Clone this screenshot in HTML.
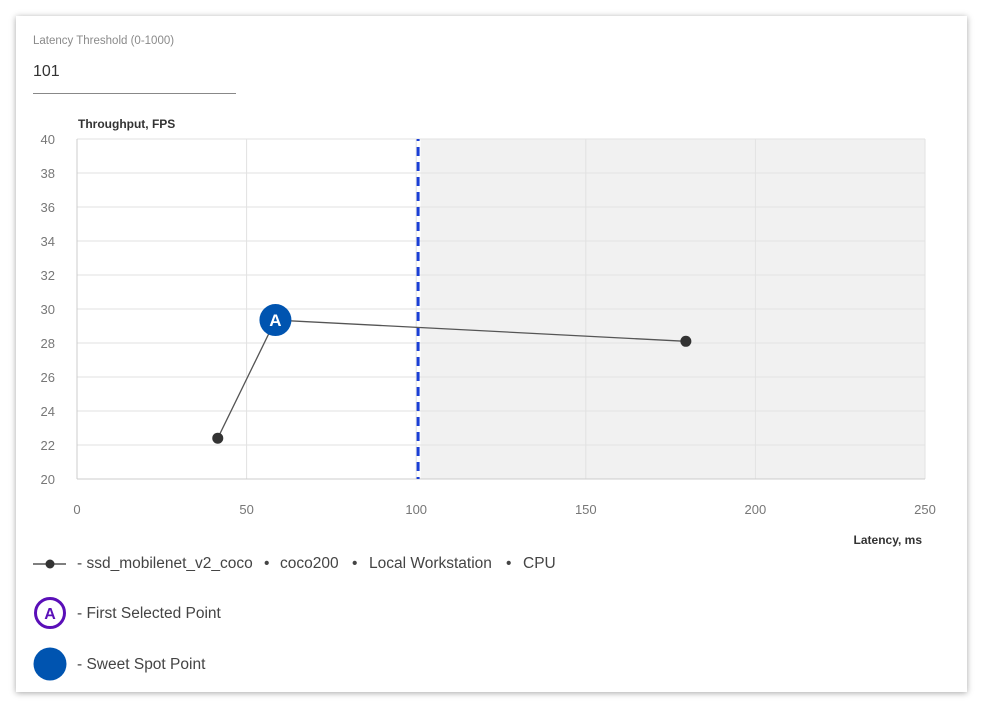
<!DOCTYPE html>
<html><head><meta charset="utf-8"><style>
body{margin:0;width:991px;height:716px;background:#fff;font-family:"Liberation Sans",sans-serif;overflow:hidden;position:relative}
#card{position:absolute;left:16px;top:16px;width:951px;height:676px;background:#fff;box-shadow:0 1px 6px rgba(0,0,0,0.35)}
.lbl{position:absolute;color:#8a8a8a;font-size:11.5px}
.leg{position:absolute;font-size:15.5px;color:#444;white-space:nowrap}
</style></head><body>
<div id="card"></div>
<div class="lbl" style="left:33px;top:35px">Latency Threshold (0-1000)</div>
<div style="position:absolute;left:33px;top:63px;width:203px;height:30px;border-bottom:1px solid #888;font-size:16px;color:#333">101</div>
<svg id="chart" width="991" height="716" style="position:absolute;left:0;top:0"></svg>
<div class="leg" style="left:77px;top:555px;width:178px">- ssd_mobilenet_v2_coco</div>
<div class="leg" style="left:264px;top:555px">•</div>
<div class="leg" style="left:280px;top:555px">coco200</div>
<div class="leg" style="left:352px;top:555px">•</div>
<div class="leg" style="left:369px;top:555px">Local Workstation</div>
<div class="leg" style="left:506px;top:555px">•</div>
<div class="leg" style="left:523px;top:555px">CPU</div>
<div class="leg" style="left:77px;top:605px">- First Selected Point</div>
<div class="leg" style="left:77px;top:656px">- Sweet Spot Point</div>
<script>
const xTicks=[0,50,100,150,200,250];
const yTicks=[20,22,24,26,28,30,32,34,36,38,40];
const latency=[41.5,58.5,179.5];
const fps=[22.4,29.35,28.1];
const sweetIndex=1;
const threshold=101;
const L=77,R=925,T=139,B=479;
const sx=v=>L+(v-0)/(250-0)*(R-L);
const sy=v=>B-(v-20)/(40-20)*(B-T);
const svg=document.getElementById('chart');
const NS='http://www.w3.org/2000/svg';
function mk(tag,attrs,parent){const e=document.createElementNS(NS,tag);for(const k in attrs)e.setAttribute(k,attrs[k]);(parent||svg).appendChild(e);return e;}
let e;
e=mk('rect',{x:sx(threshold)+1,y:T,width:R-sx(threshold)-1,height:B-T,fill:'#f1f1f1'});


yTicks.forEach(v=>{
 let g=mk('line',{x1:L,x2:R,y1:sy(v),y2:sy(v),stroke:'#e2e2e2','stroke-width':1});
 
 
 let t=mk('text',{x:55,y:sy(v)+5,'text-anchor':'end','font-size':13,fill:'#777','font-family':'Liberation Sans, sans-serif'});
 t.textContent=v;
 
 
});
xTicks.forEach(v=>{
 let g=mk('line',{x1:sx(v),x2:sx(v),y1:T,y2:B,stroke:'#e2e2e2','stroke-width':1});
 
 
 let t=mk('text',{x:sx(v),y:514,'text-anchor':'middle','font-size':13,fill:'#777','font-family':'Liberation Sans, sans-serif'});
 t.textContent=v;
 
 
});
e=mk('line',{x1:L,x2:L,y1:T,y2:B,stroke:'#ccc'});


e=mk('line',{x1:L,x2:R,y1:B,y2:B,stroke:'#ccc'});


e=mk('text',{x:78,y:128,'font-size':12,'font-weight':'bold',fill:'#333','font-family':'Liberation Sans, sans-serif'});
e.textContent='Throughput, FPS';


e=mk('text',{x:922,y:544,'text-anchor':'end','font-size':12,'font-weight':'bold',fill:'#333','font-family':'Liberation Sans, sans-serif'});
e.textContent='Latency, ms';


e=mk('line',{x1:sx(threshold)-1.5,x2:sx(threshold)-1.5,y1:T,y2:B,stroke:'#1a3fd6','stroke-width':3,'stroke-dasharray':'9,6','stroke-dashoffset':'7'});


e=mk('polyline',{points:latency.map((x,i)=>sx(x)+','+sy(fps[i])).join(' '),fill:'none',stroke:'#555','stroke-width':1.3});


latency.forEach((x,i)=>{
 if(i===sweetIndex){
  let c=mk('circle',{cx:sx(x),cy:sy(fps[i]),r:16,fill:'#0054b0'});
  
  
  let t=mk('text',{x:sx(x),y:sy(fps[i])+6,'text-anchor':'middle','font-size':17,'font-weight':'bold',fill:'#fff','font-family':'Liberation Sans, sans-serif'});
  t.textContent='A';
  
  
 } else {
  let c=mk('circle',{cx:sx(x),cy:sy(fps[i]),r:5.5,fill:'#333'});
  
  
 }
});
e=mk('line',{x1:33,x2:66,y1:564,y2:564,stroke:'#333','stroke-width':1.3});


e=mk('circle',{cx:50,cy:564,r:4.5,fill:'#333'});


e=mk('circle',{cx:50,cy:613,r:14.5,fill:'#fff',stroke:'#5a0fb8','stroke-width':3});


e=mk('text',{x:50,y:619,'text-anchor':'middle','font-size':16,'font-weight':'bold',fill:'#5a0fb8','font-family':'Liberation Sans, sans-serif'});
e.textContent='A';


e=mk('circle',{cx:50,cy:664,r:16.5,fill:'#0054b0'});


</script>
</body></html>
